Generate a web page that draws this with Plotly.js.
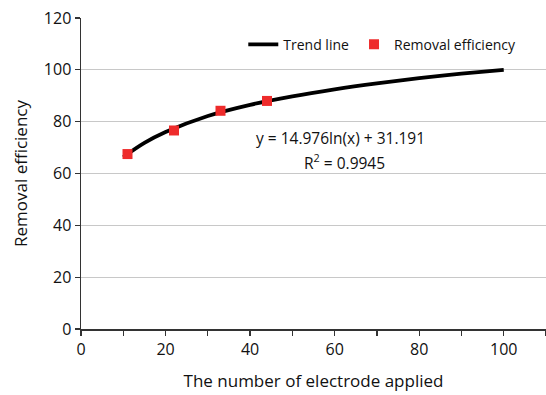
<!DOCTYPE html>
<html>
<head>
<meta charset="utf-8">
<script src="https://cdn.plot.ly/plotly-3.0.1.min.js"></script>
<style>html,body{margin:0;padding:0;background:#fff;overflow:hidden}#chart{width:546px;height:395px}</style>
</head>
<body>
<div id="chart"></div>
<script>
// Measured points
var electrodes = [11, 22, 33, 44];
var removalEfficiency = [67.5, 76.6, 84.2, 88.0];
// Trend line
var trendX = [10, 15, 20, 30, 40, 50, 60, 70, 80, 90, 100];
var trendY = [66.3, 71.8, 76.0, 82.2, 86.5, 89.8, 92.5, 94.8, 96.8, 98.5, 100.0];
var yTicks = [0, 20, 40, 60, 80, 100, 120];
var xTicks = [0, 20, 40, 60, 80, 100];

var font = "'Open Sans', 'Noto Sans', sans-serif";
var axisColor = '#333333';
var textColor = '#111111';

var traces = [
  {
    x: trendX, y: trendY, type: 'scatter', mode: 'lines', name: 'Trend line',
    line: {color: '#000000', width: 3.8, shape: 'spline', smoothing: 1.0}
  },
  {
    x: electrodes, y: removalEfficiency, type: 'scatter', mode: 'markers', name: 'Removal efficiency',
    marker: {symbol: 'square', size: 10, color: '#ee2b2b'}
  }
];

var layout = {
  width: 546, height: 395,
  margin: {l: 81, r: 0, t: 18, b: 66, pad: 0},
  paper_bgcolor: '#ffffff', plot_bgcolor: '#ffffff',
  font: {family: font, size: 14, color: textColor},
  showlegend: true,
  legend: {
    orientation: 'h', x: 0.349, xanchor: 'left', y: 0.914, yanchor: 'middle',
    bgcolor: 'rgba(0,0,0,0)', font: {family: font, size: 14, color: textColor}
  },
  xaxis: {
    range: [0, 110], tickvals: xTicks, ticktext: xTicks.map(String),
    showgrid: false, zeroline: false,
    showline: true, linecolor: axisColor, linewidth: 1.5,
    ticks: 'outside', ticklen: 5, tickcolor: axisColor, tickwidth: 1.2,
    minor: {dtick: 10, tick0: 0, ticks: 'outside', ticklen: 5, tickcolor: axisColor, tickwidth: 1.2, showgrid: false},
    tickfont: {family: font, size: 16, color: textColor},
    title: {text: 'The number of electrode applied', font: {family: font, size: 17, color: textColor}, standoff: 16}
  },
  yaxis: {
    range: [0, 120], tickvals: yTicks, ticktext: yTicks.map(String),
    showgrid: true, gridcolor: '#c8c8c8', gridwidth: 1.2, zeroline: false,
    showline: true, linecolor: axisColor, linewidth: 1.5,
    ticks: 'outside', ticklen: 5, tickcolor: axisColor, tickwidth: 1.2,
    tickfont: {family: font, size: 16, color: textColor},
    title: {text: 'Removal efficiency', font: {family: font, size: 17, color: textColor}, standoff: 12}
  },
  annotations: [
    {x: 61.3, y: 73.7, xref: 'x', yref: 'y', text: 'y = 14.976ln(x) + 31.191', showarrow: false,
     xanchor: 'center', yanchor: 'middle', font: {family: font, size: 15.5, color: textColor}},
    {x: 62.3, y: 64.6, xref: 'x', yref: 'y', text: 'R<sup>2</sup> = 0.9945', showarrow: false,
     xanchor: 'center', yanchor: 'middle', font: {family: font, size: 15.5, color: textColor}}
  ]
};

Plotly.newPlot('chart', traces, layout, {staticPlot: true, displayModeBar: false});
</script>
</body>
</html>
